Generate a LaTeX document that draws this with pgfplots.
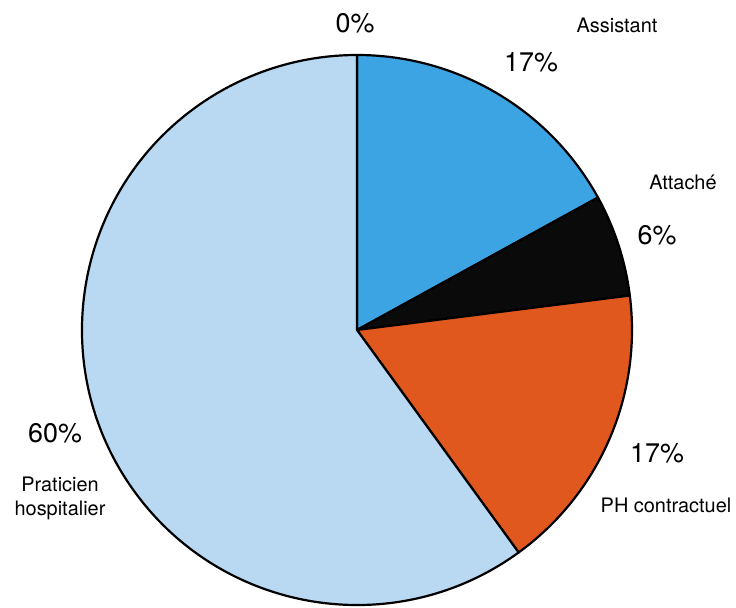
\documentclass[border=0pt]{standalone}
\usepackage{pgfplots}
\pgfplotsset{compat=1.18}
\usepackage{pgfplotstable}
\usepackage{fontspec}
\setmainfont{TeX Gyre Heros}

\definecolor{cAssistant}{HTML}{3CA4E2}
\definecolor{cAttache}{HTML}{0A0A0A}
\definecolor{cPHC}{HTML}{E0581E}
\definecolor{cPrat}{HTML}{B9D8F2}

% share of each status, clockwise from 12 o'clock
\pgfplotstableread[col sep=comma]{
label,value
Assistant,17
Attaché,6
PH contractuel,17
Praticien hospitalier,60
}\piedata

\begin{document}
\begin{tikzpicture}
\begin{axis}[
    scale only axis,
    width=736bp, height=608bp,
    xmin=0, xmax=736, ymin=0, ymax=608,
    hide axis, clip=false]
\pgfplotsextra{
  \foreach \i/\col [remember=\e as \s (initially 90)] in {0/cAssistant,1/cAttache,2/cPHC,3/cPrat}{
    \pgfplotstablegetelem{\i}{value}\of\piedata
    \pgfmathsetmacro\e{\s-3.6*\pgfplotsretval}
    \filldraw[fill=\col, draw=black, line width=2.2bp, line join=round]
      (axis cs:357,278) -- ++(\s:275bp) arc[start angle=\s, end angle=\e, radius=275bp] -- cycle;
  }
}
\begin{scope}[every node/.style={inner sep=0pt, anchor=center, text=black}]
\node[font=\fontsize{27}{30}\selectfont] at (axis cs:355,585) {0\%};
\node[font=\fontsize{20}{24}\selectfont] at (axis cs:617,583) {Assistant};
\node[font=\fontsize{27}{30}\selectfont] at (axis cs:531,546) {17\%};
\node[font=\fontsize{20}{24}\selectfont] at (axis cs:683,426) {Attaché};
\node[font=\fontsize{27}{30}\selectfont] at (axis cs:657,373) {6\%};
\node[font=\fontsize{27}{30}\selectfont] at (axis cs:657,155) {17\%};
\node[font=\fontsize{20}{24}\selectfont] at (axis cs:666,103) {PH contractuel};
\node[font=\fontsize{27}{30}\selectfont] at (axis cs:55,175) {60\%};
\node[font=\fontsize{20}{24}\selectfont, align=center] at (axis cs:60,110) {Praticien\\hospitalier};
\end{scope}
\end{axis}
\pgfresetboundingbox
\path (current axis.south west) rectangle (current axis.north east);
\end{tikzpicture}
\end{document}
